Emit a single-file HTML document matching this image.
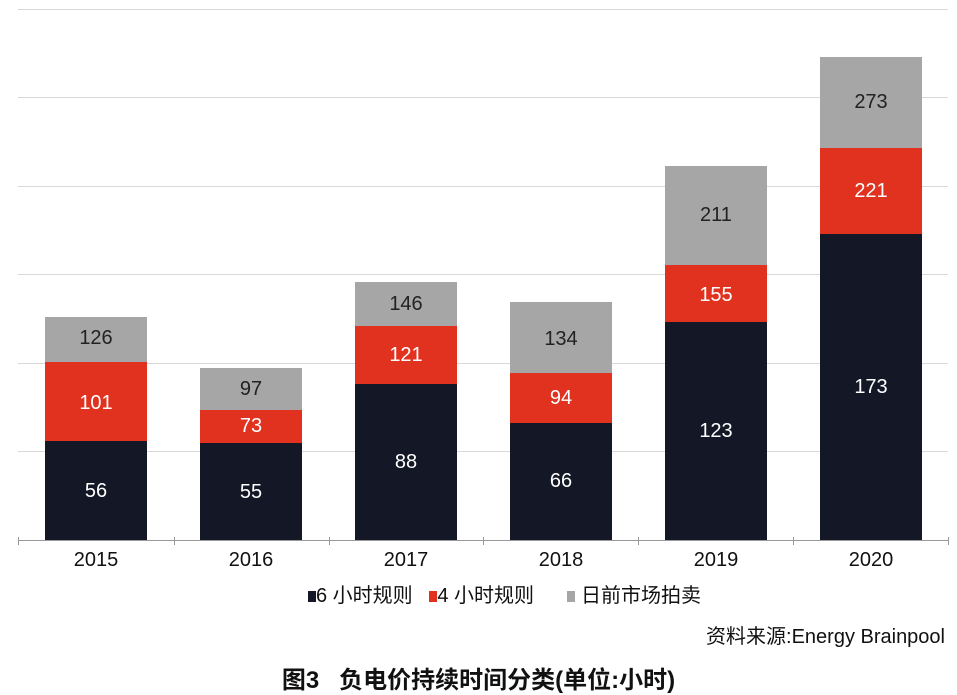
<!DOCTYPE html>
<html><head><meta charset="utf-8"><style>
body{margin:0;background:#fff;width:957px;height:691px;overflow:hidden;position:relative;font-family:"Liberation Sans","Noto Sans CJK SC",sans-serif;}
.g{position:absolute;left:18px;width:930px;height:1px;background:#d9d9d9}
.b{position:absolute;width:102px}
.v{position:absolute;width:102px;text-align:center;font-size:20px;color:#fff}
.v.d{color:#222}
.x{position:absolute;top:549px;width:102px;text-align:center;font-size:20px;color:#111}
.t{position:absolute;top:537px;width:1px;height:8px;background:#999}
</style></head><body>
<div class="g" style="top:9px"></div><div class="g" style="top:97px"></div><div class="g" style="top:186px"></div><div class="g" style="top:274px"></div><div class="g" style="top:363px"></div><div class="g" style="top:451px"></div>
<div style="position:absolute;left:18px;top:540px;width:930px;height:1px;background:#999"></div>
<div class="t" style="left:18px"></div><div class="t" style="left:174px"></div><div class="t" style="left:329px"></div><div class="t" style="left:483px"></div><div class="t" style="left:638px"></div><div class="t" style="left:793px"></div><div class="t" style="left:948px"></div>
<div class="b" style="left:45px;top:317px;height:45px;background:#a6a6a6"></div><div class="b" style="left:45px;top:362px;height:79px;background:#e0321f"></div><div class="b" style="left:45px;top:441px;height:99px;background:#141726"></div>
<div class="b" style="left:200px;top:368px;height:42px;background:#a6a6a6"></div><div class="b" style="left:200px;top:410px;height:33px;background:#e0321f"></div><div class="b" style="left:200px;top:443px;height:97px;background:#141726"></div>
<div class="b" style="left:355px;top:282px;height:44px;background:#a6a6a6"></div><div class="b" style="left:355px;top:326px;height:58px;background:#e0321f"></div><div class="b" style="left:355px;top:384px;height:156px;background:#141726"></div>
<div class="b" style="left:510px;top:302px;height:71px;background:#a6a6a6"></div><div class="b" style="left:510px;top:373px;height:50px;background:#e0321f"></div><div class="b" style="left:510px;top:423px;height:117px;background:#141726"></div>
<div class="b" style="left:665px;top:166px;height:99px;background:#a6a6a6"></div><div class="b" style="left:665px;top:265px;height:57px;background:#e0321f"></div><div class="b" style="left:665px;top:322px;height:218px;background:#141726"></div>
<div class="b" style="left:820px;top:57px;height:91px;background:#a6a6a6"></div><div class="b" style="left:820px;top:148px;height:86px;background:#e0321f"></div><div class="b" style="left:820px;top:234px;height:306px;background:#141726"></div>
<div class="v d" style="left:45px;top:327px">126</div><div class="v" style="left:45px;top:392px">101</div><div class="v" style="left:45px;top:480px">56</div>
<div class="v d" style="left:200px;top:378px">97</div><div class="v" style="left:200px;top:415px">73</div><div class="v" style="left:200px;top:481px">55</div>
<div class="v d" style="left:355px;top:293px">146</div><div class="v" style="left:355px;top:344px">121</div><div class="v" style="left:355px;top:451px">88</div>
<div class="v d" style="left:510px;top:328px">134</div><div class="v" style="left:510px;top:387px">94</div><div class="v" style="left:510px;top:470px">66</div>
<div class="v d" style="left:665px;top:204px">211</div><div class="v" style="left:665px;top:284px">155</div><div class="v" style="left:665px;top:420px">123</div>
<div class="v d" style="left:820px;top:91px">273</div><div class="v" style="left:820px;top:180px">221</div><div class="v" style="left:820px;top:376px">173</div>
<div class="x" style="left:45px">2015</div><div class="x" style="left:200px">2016</div><div class="x" style="left:355px">2017</div><div class="x" style="left:510px">2018</div><div class="x" style="left:665px">2019</div><div class="x" style="left:820px">2020</div>
<div style="position:absolute;top:579px;left:308px;font-size:20px;color:#111;white-space:nowrap">
<span style="display:inline-block;width:8px;height:11px;background:#141726"></span>6 小时规则&nbsp;&nbsp;
<span style="display:inline-block;width:8px;height:11px;background:#e0321f"></span>4 小时规则&nbsp;&nbsp;&nbsp;&nbsp;&nbsp;
<span style="display:inline-block;width:8px;height:11px;background:#a6a6a6"></span>&nbsp;日前市场拍卖</div>
<div style="position:absolute;top:620px;right:12px;font-size:20px;color:#111">资料来源:Energy Brainpool</div>
<div style="position:absolute;top:660px;left:0;width:957px;text-align:center;font-size:24px;color:#111;font-weight:bold">图3&nbsp;&nbsp;&nbsp;负电价持续时间分类(单位:小时)</div>
</body></html>
